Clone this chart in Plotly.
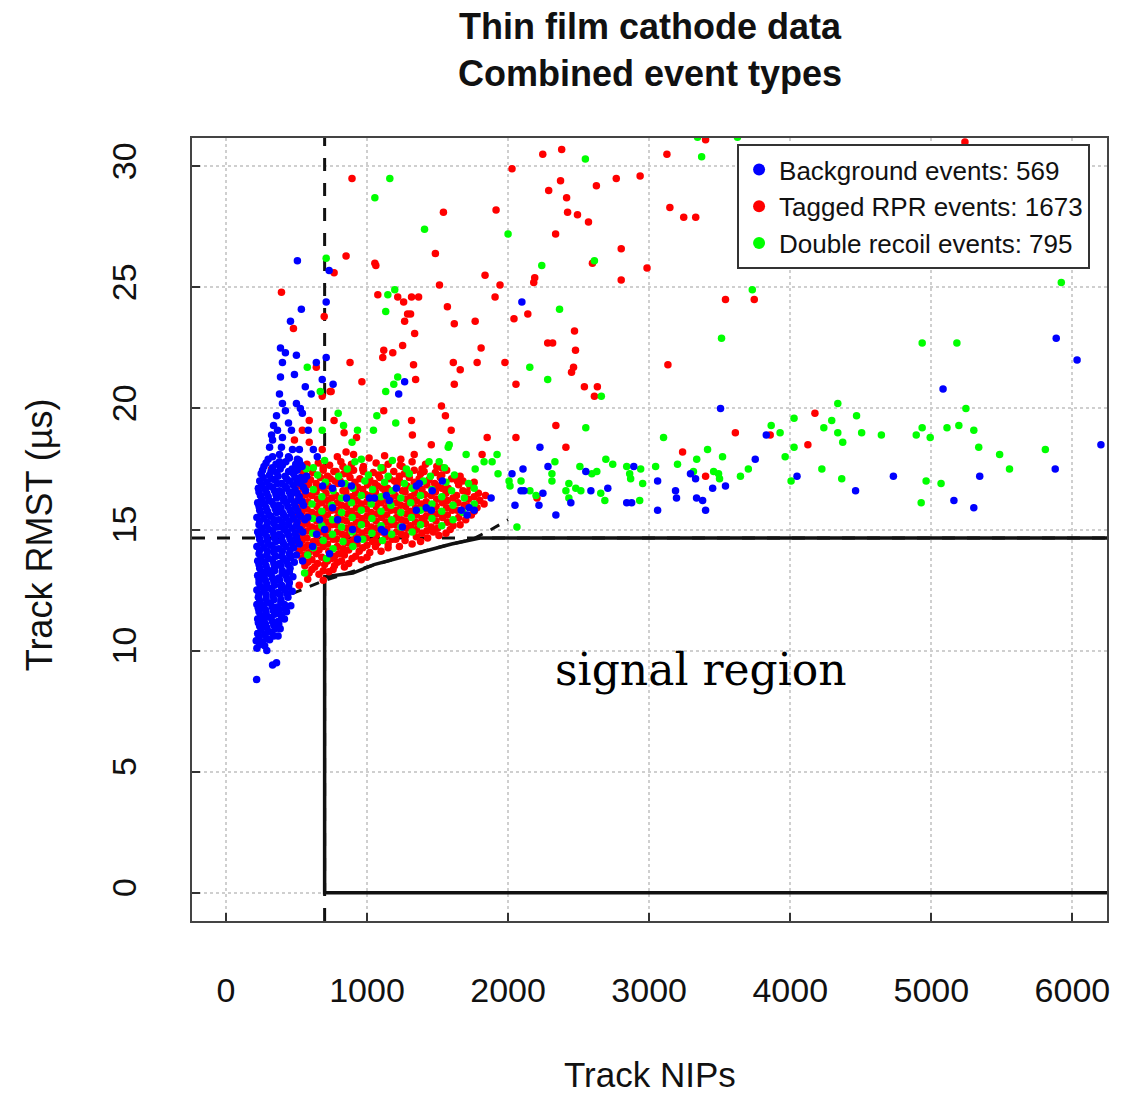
import plotly.graph_objects as go

# ---------------- data: (Track NIPs, Track RMST [us]) ----------------
background_pts = [
    # dense column of background events
    (300,17.9),(380,17.8),(450,17.95),(520,17.85),
    (270,17.6),(330,17.55),(400,17.65),(470,17.5),(540,17.6),
    (250,17.3),(310,17.25),(360,17.35),(420,17.2),(480,17.3),(530,17.15),
    (240,17.0),(290,16.95),(345,17.05),(395,16.9),(450,17.0),(505,16.95),
    (230,16.7),(280,16.65),(330,16.75),(380,16.6),(430,16.7),(490,16.65),(550,16.75),
    (245,16.4),(300,16.35),(355,16.45),(410,16.3),(460,16.4),(520,16.35),
    (225,16.1),(275,16.05),(325,16.15),(375,16.0),(430,16.1),(485,16.05),(540,16.15),
    (240,15.8),(295,15.75),(350,15.85),(400,15.7),(455,15.8),(510,15.75),
    (220,15.5),(270,15.45),(320,15.55),(375,15.4),(425,15.5),(480,15.45),(530,15.55),
    (235,15.2),(290,15.15),(340,15.25),(395,15.1),(445,15.2),(500,15.15),
    (225,14.9),(275,14.85),(330,14.95),(380,14.8),(435,14.9),(490,14.85),(545,14.9),
    (240,14.6),(295,14.55),(345,14.65),(400,14.5),(455,14.6),(505,14.55),
    (220,14.3),(270,14.25),(320,14.35),(375,14.2),(425,14.3),(480,14.25),
    (235,14.0),(290,13.95),(340,14.05),(395,13.9),(450,14.0),(500,13.95),
    (225,13.7),(275,13.65),(330,13.75),(380,13.6),(430,13.7),(485,13.65),
    (240,13.4),(295,13.35),(345,13.45),(400,13.3),(455,13.4),
    (225,13.1),(270,13.05),(320,13.15),(375,13.0),(425,13.1),(475,13.05),
    (235,12.8),(290,12.75),(340,12.85),(395,12.7),(450,12.8),
    (220,12.5),(270,12.45),(320,12.55),(370,12.4),(420,12.5),(470,12.45),
    (230,12.2),(285,12.15),(335,12.25),(390,12.1),(440,12.2),
    (220,11.9),(265,11.85),(315,11.95),(365,11.8),(415,11.9),(460,11.85),
    (235,11.6),(285,11.55),(335,11.65),(385,11.5),(430,11.6),
    (225,11.3),(270,11.25),(320,11.35),(370,11.2),(415,11.3),
    (240,11.0),(290,10.95),(340,11.05),(385,10.9),
    (225,10.7),(275,10.65),(325,10.75),(370,10.6),
    (215,10.4),(260,10.35),(310,10.45),
    (220,10.1),(290,10.0),(331,9.4),(359,9.5),(218,8.8),
    # second, staggered layer of the column
    (285,17.75),(355,17.7),(425,17.8),(495,17.7),
    (260,17.45),(320,17.4),(385,17.5),(445,17.4),(505,17.45),
    (265,17.15),(320,17.1),(370,17.2),(430,17.1),(490,17.15),(555,17.05),
    (255,16.85),(310,16.8),(365,16.9),(420,16.8),(475,16.85),(530,16.9),
    (235,16.55),(290,16.5),(345,16.6),(395,16.5),(450,16.55),(505,16.5),(565,16.6),
    (255,16.25),(305,16.2),(360,16.3),(410,16.2),(460,16.25),(510,16.2),
    (235,15.95),(285,15.9),(340,16.0),(390,15.9),(440,15.95),(495,15.9),(550,16.0),
    (250,15.65),(305,15.6),(360,15.7),(410,15.6),(465,15.65),(520,15.6),
    (240,15.35),(295,15.3),(345,15.4),(400,15.3),(450,15.35),(505,15.3),(560,15.4),
    (255,15.05),(305,15.0),(360,15.1),(415,15.0),(470,15.05),(525,15.0),
    (235,14.75),(290,14.7),(340,14.8),(395,14.7),(445,14.75),(500,14.7),
    (250,14.45),(300,14.4),(355,14.5),(410,14.4),(465,14.45),(520,14.4),
    (240,14.15),(295,14.1),(345,14.2),(400,14.1),(455,14.15),
    (250,13.85),(300,13.8),(355,13.9),(410,13.8),(460,13.85),
    (235,13.55),(285,13.5),(340,13.6),(390,13.5),(440,13.55),
    (250,13.25),(295,13.2),(345,13.3),(400,13.2),(450,13.25),
    (235,12.95),(280,12.9),(330,13.0),(380,12.9),(435,12.95),
    (245,12.65),(295,12.6),(345,12.7),(395,12.6),(445,12.65),
    (235,12.35),(285,12.3),(335,12.4),(385,12.3),(435,12.35),
    (240,12.05),(290,12.0),(340,12.1),(390,12.0),
    (230,11.75),(280,11.7),(330,11.8),(380,11.7),(425,11.75),
    (245,11.45),(295,11.4),(345,11.5),(395,11.4),
    (230,11.15),(280,11.1),(330,11.2),(375,11.1),
    (250,10.85),(300,10.8),(350,10.9),
    (235,10.55),(290,10.5),(340,10.6),
    (240,10.25),(275,10.2),
    # sparse upper part of the column
    (507,26.1),(732,25.7),(711,24.4),(535,24.1),(458,23.6),(387,22.5),(422,22.3),(500,22.2),
    (401,21.9),(641,21.9),(711,22.1),(486,21.4),(387,21.3),(683,21.2),(760,21.0),(563,20.9),
    (605,20.6),(380,20.6),(401,20.2),(422,19.9),(500,20.2),(528,20.0),(542,19.8),(359,19.7),
    (338,19.3),(366,19.1),(444,19.4),(465,19.1),(584,19.1),(324,18.9),(331,18.7),(401,18.8),
    (310,18.4),(394,18.4),(472,18.3),(521,18.3),(620,18.3),(648,18.0),(331,18.0),(380,18.1),
    (444,18.0),(507,17.9),(528,17.7),
    # inside the RPR cluster
    (820,16.9),(756,16.7),(756,15.9),(700,15.0),(792,15.4),(890,16.8),(898,15.0),(1018,16.3),
    (1053,16.3),(1102,15.0),(1138,16.4),(1208,16.7),(1251,15.1),(1350,15.8),(1350,16.8),
    (1420,15.9),(1456,15.8),(1534,17.0),(1668,15.8),(1710,15.6),(1760,15.8),(1880,16.3),
    (933,14.6),(1124,14.9),(664,15.4),(686,16.8),(855,16.3),(1159,16.2),(1371,16.9),
    (1463,16.6),(1724,15.9),(572,17.2),(580,15.5),(643,14.8),(615,14.3),(735,14.0),(544,13.7),
    # outliers
    (1267,21.1),(1225,20.6),(2098,24.4),
    (2226,18.4),(2028,17.3),(2106,17.5),(2092,16.6),(2113,16.6),(2049,16.0),(2219,16.0),
    (2247,16.5),(2283,17.6),(2339,15.6),(2445,16.1),(2551,17.4),(2587,16.6),(2707,16.7),
    (2841,16.1),(2876,16.1),(2891,17.6),(3060,17.0),(3060,15.8),(3187,16.6),(3194,16.3),
    (3293,17.3),(3329,17.1),(3336,16.3),(3379,16.2),(3400,15.8),(3450,16.7),(3541,16.8),
    (3506,20.0),(3830,18.9),(3752,17.9),(4048,17.2),(4463,16.6),(4731,17.2),(5083,20.8),
    (5160,16.2),(5301,15.9),(5343,17.2),(5878,17.5),(5885,22.9),(6033,22.0),(6202,18.5),
]

rpr_pts = [
    # dense cluster
    (790,18.0),(905,18.1),(1015,17.95),(1125,18.05),(1240,17.9),(1335,18.1),
    (575,17.7),(655,17.75),(735,17.65),(815,17.8),(890,17.7),(975,17.6),(1065,17.75),(1150,17.7),
    (1235,17.65),(1320,17.8),(1415,17.7),(1495,17.6),
    (545,17.4),(615,17.35),(690,17.45),(765,17.4),(835,17.3),(905,17.45),(975,17.4),(1045,17.35),
    (1115,17.45),(1190,17.4),(1265,17.3),(1335,17.45),(1405,17.4),(1485,17.35),(1565,17.45),
    (530,17.1),(600,17.05),(670,17.15),(740,17.1),(810,17.0),(880,17.15),(950,17.1),(1020,17.05),
    (1090,17.15),(1160,17.1),(1230,17.0),(1300,17.15),(1370,17.1),(1440,17.05),(1520,17.15),
    (1600,17.1),(1680,17.0),
    (515,16.8),(585,16.85),(655,16.75),(725,16.8),(795,16.9),(865,16.8),(935,16.75),(1005,16.85),
    (1075,16.8),(1145,16.7),(1215,16.85),(1285,16.8),(1355,16.75),(1425,16.85),(1500,16.8),
    (1575,16.7),(1650,16.85),(1730,16.8),
    (505,16.5),(570,16.45),(640,16.55),(710,16.5),(780,16.4),(850,16.55),(920,16.5),(990,16.45),
    (1060,16.55),(1130,16.5),(1200,16.4),(1270,16.55),(1340,16.5),(1410,16.45),(1485,16.55),
    (1560,16.5),(1635,16.4),(1710,16.55),(1790,16.5),
    (510,16.2),(580,16.15),(650,16.25),(720,16.2),(790,16.1),(860,16.25),(930,16.2),(1000,16.15),
    (1070,16.25),(1140,16.2),(1210,16.1),(1280,16.25),(1350,16.2),(1420,16.15),(1495,16.25),
    (1570,16.2),(1645,16.1),(1720,16.25),(1800,16.2),
    (505,15.9),(575,15.85),(645,15.95),(715,15.9),(785,15.8),(855,15.95),(925,15.9),(995,15.85),
    (1065,15.95),(1135,15.9),(1205,15.8),(1275,15.95),(1345,15.9),(1415,15.85),(1490,15.95),
    (1565,15.9),(1640,15.8),(1715,15.95),(1780,15.9),
    (510,15.6),(580,15.55),(650,15.65),(720,15.6),(790,15.5),(860,15.65),(930,15.6),(1000,15.55),
    (1070,15.65),(1140,15.6),(1210,15.5),(1280,15.65),(1350,15.6),(1420,15.55),(1495,15.65),
    (1570,15.6),(1650,15.5),(1740,15.6),
    (505,15.3),(575,15.25),(645,15.35),(715,15.3),(785,15.2),(855,15.35),(925,15.3),(995,15.25),
    (1065,15.35),(1135,15.3),(1205,15.2),(1275,15.35),(1345,15.3),(1415,15.25),(1490,15.35),
    (1570,15.3),(1660,15.2),
    (510,15.0),(580,14.95),(650,15.05),(720,15.0),(790,14.9),(860,15.05),(930,15.0),(1000,14.95),
    (1070,15.05),(1140,15.0),(1210,14.9),(1280,15.05),(1350,15.0),(1425,14.95),(1500,15.05),
    (1590,15.0),
    (505,14.7),(575,14.65),(645,14.75),(715,14.7),(785,14.6),(855,14.75),(925,14.7),(995,14.65),
    (1065,14.75),(1135,14.7),(1205,14.6),(1275,14.75),(1350,14.7),(1430,14.65),(1510,14.75),
    (510,14.4),(580,14.35),(650,14.45),(720,14.4),(790,14.3),(860,14.45),(930,14.4),(1000,14.35),
    (1075,14.45),(1150,14.4),(1230,14.3),(1320,14.4),
    (520,14.1),(590,14.05),(660,14.15),(730,14.1),(800,14.0),(870,14.15),(945,14.1),(1020,14.05),
    (1100,14.1),
    (540,13.8),(610,13.75),(680,13.85),(750,13.8),(820,13.7),(895,13.8),(960,13.75),
    (560,13.5),(630,13.45),(700,13.55),(770,13.5),(840,13.45),
    (590,13.2),(660,13.15),(730,13.25),(580,12.95),(690,12.9),(520,12.7),
    # staggered points filling the cluster
    (690,17.55),(830,17.6),(970,17.5),(1110,17.55),(1250,17.6),(1390,17.5),(1530,17.55),
    (560,17.25),(720,17.2),(870,17.3),(1080,17.25),(1230,17.2),(1380,17.3),(1530,17.25),(1660,17.2),
    (560,16.95),(640,16.9),(775,17.0),(915,16.95),(1055,16.9),(1195,17.0),(1335,16.95),(1480,16.9),
    (1640,17.0),(1760,16.95),
    (550,16.65),(690,16.7),(830,16.6),(970,16.65),(1110,16.7),(1250,16.6),(1390,16.65),(1530,16.7),
    (1680,16.6),
    (540,16.35),(610,16.4),(750,16.3),(890,16.35),(1030,16.4),(1170,16.3),(1310,16.35),(1455,16.4),
    (1610,16.3),(1760,16.35),(1840,16.4),
    (540,16.05),(680,16.1),(820,16.0),(960,16.05),(1100,16.1),(1240,16.0),(1385,16.05),(1535,16.1),
    (1690,16.0),(1830,16.05),
    (540,15.75),(610,15.7),(750,15.8),(890,15.75),(1030,15.7),(1170,15.8),(1310,15.75),(1455,15.7),
    (1605,15.8),(1760,15.75),
    (540,15.45),(685,15.5),(825,15.4),(965,15.45),(1105,15.5),(1245,15.4),(1390,15.45),(1535,15.5),
    (1700,15.4),
    (540,15.15),(610,15.1),(750,15.2),(890,15.15),(1030,15.1),(1170,15.2),(1310,15.15),(1455,15.1),
    (1610,15.15),
    (540,14.85),(685,14.9),(825,14.8),(965,14.85),(1105,14.9),(1245,14.8),(1390,14.85),(1470,14.9),
    (1560,14.85),
    (540,14.55),(620,14.5),(760,14.6),(900,14.55),(1040,14.5),(1180,14.6),(1270,14.55),(1380,14.5),
    (550,14.25),(690,14.3),(830,14.2),(970,14.25),(1060,14.3),(1150,14.25),
    (560,13.95),(640,14.0),(770,13.9),(840,13.95),(920,13.9),(1000,13.85),
    (580,13.65),(650,13.6),(720,13.7),(790,13.65),(870,13.6),
    (610,13.35),(690,13.3),(760,13.35),
    # sparse points
    (894,29.5),(1542,28.1),(1915,28.2),(2246,30.5),(2380,30.7),(2028,29.9),(2372,29.4),(2288,29.0),
    (2415,28.7),(2422,28.1),(2492,28.0),(2570,27.7),(2626,29.2),(2767,29.5),(2936,29.6),(3126,30.5),
    (3147,28.3),(3245,27.9),(3330,27.9),(2337,27.2),(2802,26.6),(2598,26.0),(2985,25.8),(2802,25.3),
    (2189,25.4),(2182,25.2),(1943,25.1),(1908,24.6),(1837,25.5),(1485,26.4),(1514,25.1),(1056,26.0),
    (1063,25.9),(852,26.3),(767,25.6),(1077,24.7),(1218,24.6),(1260,24.4),(1316,24.6),(1366,24.6),
    (1570,24.2),(1288,23.9),(1309,23.9),(1267,23.6),(1619,23.5),(1767,23.6),(2042,23.7),(2140,23.9),
    (2471,23.2),(1338,23.1),(1253,22.6),(1119,22.4),(1112,22.1),(1183,22.3),(1809,22.5),(2281,22.7),
    (2316,22.7),(2478,22.4),(880,21.9),(1330,21.8),(1612,21.9),(1661,21.6),(1781,21.9),(1978,21.9),
    (2464,21.7),(2450,21.5),(3133,21.8),(964,21.1),(1345,21.2),(1619,21.0),(2056,21.0),(2541,20.9),
    (2633,20.9),(2612,20.5),(746,20.7),(1528,20.1),(1556,19.7),(1119,19.9),(1316,19.5),
    (394,24.8),(697,23.8),(479,23.3),(641,21.7),(739,20.7),(683,20.5),(767,19.5),(591,19.5),
    (542,19.1),(838,19.0),(486,18.7),(591,18.6),(683,18.3),(852,18.2),(563,17.6),(324,17.5),
    (781,17.4),(2339,19.3),(1597,19.1),(1852,18.8),(2056,18.8),(2410,18.4),(1816,18.1),(2205,16.3),
    (3237,18.2),(926,18.8),(1456,18.5),(1322,18.9),
    (3400,31.1),(5238,31.0),(3541,24.5),(3745,24.5),(4175,19.8),(3858,18.9),(3611,19.0),
    (4125,18.5),(3400,17.2),
]

double_pts = [
    # inside the RPR cluster
    (700,17.85),(960,17.9),(1180,17.85),(1440,17.8),
    (620,17.55),(860,17.5),(1100,17.55),(1280,17.5),(1550,17.55),
    (650,17.25),(800,17.2),(1010,17.25),(1150,17.2),(1300,17.3),(1450,17.2),(1620,17.25),
    (705,16.95),(845,16.9),(985,17.0),(1125,16.95),(1265,16.9),(1400,17.0),(1560,16.95),(1720,16.9),
    (620,16.65),(760,16.6),(900,16.7),(1040,16.65),(1180,16.6),(1320,16.7),(1460,16.65),(1600,16.6),
    (1760,16.7),
    (680,16.35),(820,16.3),(960,16.4),(1100,16.35),(1240,16.3),(1380,16.4),(1530,16.35),(1690,16.3),
    (610,16.05),(750,16.0),(890,16.1),(1030,16.05),(1170,16.0),(1310,16.1),(1460,16.05),(1610,16.0),
    (1760,16.05),
    (680,15.75),(820,15.7),(960,15.8),(1100,15.75),(1240,15.7),(1380,15.8),(1530,15.75),(1680,15.7),
    (615,15.45),(755,15.4),(895,15.5),(1035,15.45),(1175,15.4),(1315,15.5),(1460,15.45),(1610,15.4),
    (680,15.15),(820,15.1),(960,15.2),(1100,15.15),(1240,15.1),(1380,15.2),(1530,15.15),
    (615,14.85),(755,14.8),(895,14.9),(1035,14.85),(1175,14.8),(1320,14.9),
    (690,14.55),(830,14.5),(970,14.6),(1110,14.55),
    (620,14.25),(760,14.2),(900,14.3),
    (714,13.8),(580,13.95),(558,13.2),
    # sparse points
    (1162,29.5),(1056,28.7),(1408,27.4),(2000,27.2),(2548,30.3),(2612,26.1),(2239,25.9),(1148,24.7),
    (1197,24.9),(1133,24.0),(2365,24.1),(2154,21.7),(1218,21.3),(1190,21.0),(1133,20.7),(2281,21.2),
    (2661,20.5),(1070,19.7),(796,19.8),(1204,19.4),(3343,31.2),(2551,19.2),
    (711,26.2),(577,21.7),(669,20.7),(683,19.1),(894,18.6),(570,17.5),(915,17.8),
    (834,19.3),(933,19.1),(1046,19.1),(1583,18.5),
    (3102,18.8),(1576,18.4),(1512,17.8),(1703,18.1),(1830,17.8),(1887,17.8),(1922,18.1),(1767,17.5),
    (1929,17.3),(2007,17.0),(2092,17.0),(2014,16.8),(2155,16.6),(2198,16.4),(2332,17.8),(2311,17.3),
    (2311,17.0),(2431,16.9),(2410,16.6),(2431,16.3),(2480,16.7),(2516,16.6),(2509,17.6),(2594,17.3),
    (2629,17.4),(2657,16.5),(2686,16.2),(2693,17.9),(2742,17.7),(2841,17.6),(2862,17.3),(2869,17.1),
    (2940,17.5),(2954,16.9),(2933,16.2),(3046,17.6),(3201,17.7),(3314,17.4),(2063,15.1),
    (3372,30.4),(3626,31.2),(3731,24.9),(3513,22.9),(5921,25.2),(4935,22.7),(5181,22.7),(4337,20.2),
    (5245,20.0),(4027,19.6),(4470,19.7),(4294,19.5),(4238,19.2),(4337,19.0),(4506,19.0),(4372,18.6),
    (4646,18.9),(3865,19.3),(3928,19.0),(4027,18.4),(3964,18.0),(3520,18.0),(3414,18.3),(3337,17.9),
    (4893,18.9),(4935,19.2),(4992,18.8),(5111,19.2),(5195,19.3),(5301,19.1),(5336,18.4),(5484,18.1),
    (5554,17.5),(5808,18.3),(4224,17.5),(4365,17.1),(4006,17.0),(4963,17.0),(5069,16.9),(4928,16.1),
    (3647,17.2),(3703,17.5),(3457,17.4),(3492,17.3),(3499,17.1),
]

series_names = ["Background events: 569", "Tagged RPR events: 1673", "Double recoil events: 795"]

# cut lines
nips_cut = 700
rmst_cut = 14.65
signal_x = [6400, 700, 700, 900, 1050, 1300, 1600, 1800, 6400]
signal_y = [0, 0, 13.05, 13.2, 13.55, 13.95, 14.4, 14.65, 14.65]
dashed_curve_x = [470, 600, 700, 1000, 1300, 1600, 1750, 1880, 2000]
dashed_curve_y = [12.35, 12.65, 12.9, 13.45, 13.95, 14.4, 14.6, 15.0, 15.4]

x_ticks = [0, 1000, 2000, 3000, 4000, 5000, 6000]
y_ticks = [0, 5, 10, 15, 20, 25, 30]
x_range = [-240, 6245]
y_range = [-1.17, 31.17]

FONT = "Liberation Sans, Arial, Helvetica, sans-serif"

fig = go.Figure()

# reference lines
fig.add_trace(go.Scatter(x=[nips_cut, nips_cut], y=[y_range[0], y_range[1]], mode="lines",
                         line=dict(color="#111", width=3, dash="13px,12px"), showlegend=False, hoverinfo="skip"))
fig.add_trace(go.Scatter(x=[x_range[0], x_range[1]], y=[rmst_cut, rmst_cut], mode="lines",
                         line=dict(color="#111", width=3, dash="13px,12px"), showlegend=False, hoverinfo="skip"))
fig.add_trace(go.Scatter(x=dashed_curve_x, y=dashed_curve_y, mode="lines",
                         line=dict(color="#111", width=3, dash="10px,9px"), showlegend=False, hoverinfo="skip"))
fig.add_trace(go.Scatter(x=signal_x, y=signal_y, mode="lines",
                         line=dict(color="#111", width=3.5), showlegend=False, hoverinfo="skip"))

colors = {"bg": "#0000FF", "rpr": "#FF0000", "dr": "#00FF00"}
for key, pts, name, rank in [("rpr", rpr_pts, series_names[1], 2),
                             ("dr", double_pts, series_names[2], 3),
                             ("bg", background_pts, series_names[0], 1)]:
    fig.add_trace(go.Scatter(
        x=[p[0] for p in pts], y=[p[1] for p in pts], mode="markers", name=name,
        marker=dict(color=colors[key], size=7.5, line=dict(width=0)), legendrank=rank,
    ))

axis_common = dict(
    showline=True, linecolor="#444", linewidth=2, mirror=True,
    ticks="inside", ticklen=8, tickwidth=2, tickcolor="#333",
    showgrid=True, gridcolor="#cfcfcf", gridwidth=1.5, griddash="dot",
    zeroline=False, tickfont=dict(family=FONT, size=34, color="#111"),
)
fig.update_xaxes(range=x_range, tickvals=x_ticks, ticktext=[str(v) for v in x_ticks],
                 ticklabelstandoff=38, **axis_common)
fig.update_yaxes(range=y_range, tickvals=y_ticks, ticktext=[str(v) for v in y_ticks],
                 tickangle=-90, ticklabelstandoff=40, **axis_common)

fig.update_layout(
    width=1122, height=1096,
    margin=dict(l=192, r=13, t=138, b=175),
    plot_bgcolor="white", paper_bgcolor="white",
    font=dict(family=FONT, color="#111"),
    showlegend=True,
    legend=dict(x=0.9815, y=0.9923, xanchor="right", yanchor="top",
                bgcolor="white", bordercolor="#333", borderwidth=2,
                font=dict(family=FONT, size=26, color="#111"),
                itemsizing="constant", tracegroupgap=0),
    annotations=[
        dict(text="<b>Thin film cathode data<br>Combined event types</b>", xref="paper", yref="paper",
             x=0.5, y=1.113, xanchor="center", yanchor="middle", showarrow=False,
             font=dict(family=FONT, size=36, color="#111")),
        dict(text="Track NIPs", xref="paper", yref="paper", x=0.5, y=-0.196,
             xanchor="center", yanchor="middle", showarrow=False,
             font=dict(family=FONT, size=35, color="#111")),
        dict(text="Track RMST (\u00b5s)", xref="paper", yref="paper", x=-0.1658, y=0.493,
             xanchor="center", yanchor="middle", showarrow=False, textangle=-90,
             font=dict(family=FONT, size=36, color="#111")),
        dict(text="signal region", xref="x", yref="y", x=3371, y=9.2,
             xanchor="center", yanchor="middle", showarrow=False,
             font=dict(family="DejaVu Serif, Liberation Serif, serif", size=44, color="#000")),
    ],
)

fig.write_html("out.html")
